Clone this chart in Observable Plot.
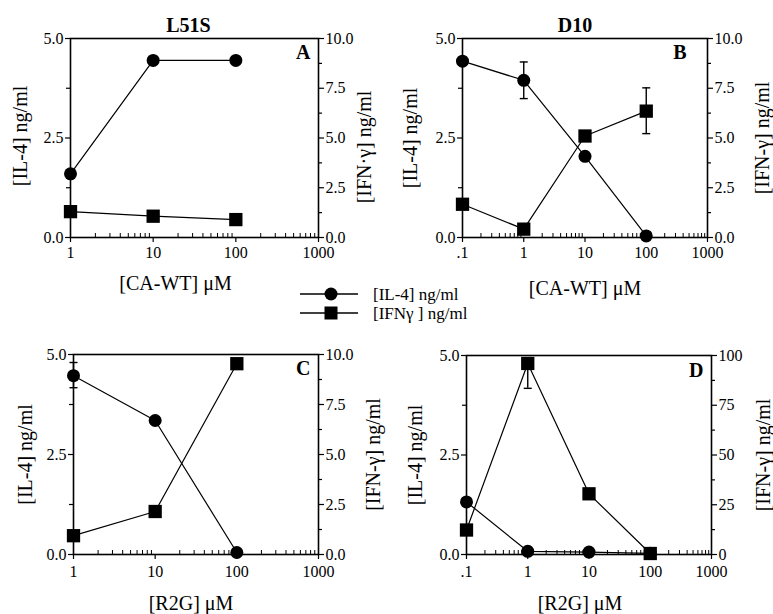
<!DOCTYPE html>
<html><head><meta charset="utf-8">
<script src="https://cdn.jsdelivr.net/npm/d3@7"></script>
<script src="https://cdn.jsdelivr.net/npm/@observablehq/plot@0.6"></script>
<style>
html,body{margin:0;padding:0;background:#fff;}
#root{position:relative;width:773px;height:614px;overflow:hidden;}
#root svg{position:absolute;}
</style></head><body><div id="root"></div>
<script>
// ---------- data ----------
// Panel A: L51S, CA-WT
const xA = [1, 10, 100];
const il4A = [1.6, 4.45, 4.45];
const ifnA = [1.3, 1.07, 0.9];
// Panel B: D10, CA-WT
const xB = [0.1, 1, 10, 100];
const il4B = [4.43, 3.95, 2.04, 0.04];
const ifnB = [1.67, 0.42, 5.1, 6.35];
const errBx = [1, 100], errBseries = ["il4", "ifn"], errBlo = [3.49, 5.22], errBhi = [4.41, 7.52];
// Panel C: L51S, R2G
const xC = [1, 10, 100];
const il4C = [4.47, 3.35, 0.05];
const ifnC = [0.94, 2.15, 9.54];
const errCx = [1], errCseries = ["il4"], errClo = [4.17], errChi = [4.8];
// Panel D: D10, R2G
const xD = [0.1, 1, 10, 100];
const il4D = [1.32, 0.08, 0.06, 0.03];
const ifnD = [12.3, 96, 30.5, 0.5];
const errDx = [1], errDseries = ["ifn"], errDlo = [83.5], errDhi = [96];

// tick labels
const xTicks1 = [1, 10, 100, 1000];
const xTicks01 = [0.1, 1, 10, 100, 1000];
const il4Ticks = [0, 2.5, 5];
const legendLabels = ["[IL-4] ng/ml", "[IFNγ ] ng/ml"];
const legendSymbols = ["circle", "square"];

// ---------- drawing ----------
const FONT = "Liberation Serif, Times New Roman, serif";
const TICK = 16, TITLE = 20, AXT = 20;
const root = document.getElementById("root");
const hline = {draw(ctx, size) { const w = Math.sqrt(size / Math.PI); ctx.moveTo(-w, 0); ctx.lineTo(w, 0); }};

function minorLog(d0, d1) {
  const out = [];
  for (let e = Math.log10(d0); e < Math.log10(d1); e++) {
    for (let m = 2; m <= 9; m++) out.push(m * Math.pow(10, e));
  }
  return out;
}

function label(text, opts) {
  return Plot.text([text], {text: d => d, textAnchor: "middle", lineAnchor: "middle", fill: "black", ...opts});
}

function panel(o) {
  const k = o.ifnMax / 5;
  const rowsIL = o.x.map((x, i) => ({x, v: o.il4[i]}));
  const rowsIF = o.x.map((x, i) => ({x, v: o.ifn[i] / k}));
  const errs = o.errX.map((x, i) => {
    const s = o.errS[i] === "ifn" ? k : 1;
    return {x, lo: o.errLo[i] / s, hi: o.errHi[i] / s};
  });
  const caps = [];
  errs.forEach(e => { caps.push({x: e.x, y: e.lo}); caps.push({x: e.x, y: e.hi}); });
  const fh = o.height - o.mt - o.mb;
  const fmtR = o.ifnMax === 100 ? (d => d3.format("d")(Math.round(d * k))) : (d => d3.format(".1f")(d * k));
  const marks = [
    Plot.tickX(minorLog(o.xDomain[0], o.xDomain[1]), {x: d => d, insetTop: fh - 4, strokeWidth: 1}),
    Plot.axisX({ticks: o.xTicks, tickFormat: d => d === 0.1 ? ".1" : String(d), tickSize: 5, tickPadding: o.xPad, fontSize: TICK, label: null, strokeWidth: 1.2}),
    Plot.axisY({anchor: "left", ticks: il4Ticks, tickFormat: d3.format(".1f"), tickSize: 5, tickPadding: 2, fontSize: TICK, label: null, strokeWidth: 1.2}),
    Plot.axisY({anchor: "left", ticks: [1.25, 3.75], tickFormat: () => "", tickSize: 4, label: null, strokeWidth: 1.2}),
    Plot.axisY({anchor: "right", ticks: [0, 1.25, 2.5, 3.75, 5], tickFormat: fmtR, tickSize: 5, tickPadding: 2, fontSize: TICK, label: null, strokeWidth: 1.2}),
    Plot.axisY({anchor: "right", ticks: [0.625, 1.875, 3.125, 4.375], tickFormat: () => "", tickSize: 3, label: null, strokeWidth: 1.2}),
    Plot.frame({stroke: "black", strokeWidth: 1.6}),
    Plot.line(rowsIL, {x: "x", y: "v", stroke: "black", strokeWidth: 1.2}),
    Plot.line(rowsIF, {x: "x", y: "v", stroke: "black", strokeWidth: 1.2}),
    Plot.ruleX(errs, {x: "x", y1: "lo", y2: "hi", stroke: "black", strokeWidth: 1.4}),
    Plot.dot(caps, {x: "x", y: "y", symbol: hline, r: 4, fill: "none", stroke: "black", strokeWidth: 1.4}),
    Plot.dot(rowsIL, {x: "x", y: "v", symbol: "circle", r: 6.5, fill: "black", stroke: "none"}),
    Plot.dot(rowsIF, {x: "x", y: "v", symbol: "square", r: 7.5, fill: "black", stroke: "none"}),
    label(o.letter, {frameAnchor: "top-right", textAnchor: "end", dx: o.letterDx, dy: o.letterDy, fontSize: TITLE, fontWeight: "bold"}),
    label(o.xLabel, {frameAnchor: "bottom", dx: o.xlDx, dy: o.xlDy, fontSize: AXT}),
    label("[IL-4] ng/ml", {frameAnchor: "left", rotate: -90, dx: o.ylDx, dy: o.ylDy, fontSize: AXT}),
    label(o.ifnLabel, {frameAnchor: "right", rotate: -90, dx: o.yrDx, dy: o.yrDy, fontSize: AXT})
  ];
  if (o.title) marks.push(label(o.title, {frameAnchor: "top", dx: o.tDx, dy: -13, fontSize: TITLE, fontWeight: "bold"}));
  const svg = Plot.plot({
    width: o.width, height: o.height,
    marginLeft: o.ml, marginRight: o.mr, marginTop: o.mt, marginBottom: o.mb,
    x: {type: "log", domain: o.xDomain},
    y: {domain: [0, 5]},
    style: {fontFamily: FONT, fontSize: TICK + "px", background: "transparent", overflow: "visible", color: "black"},
    marks
  });
  svg.style.left = o.left + "px";
  svg.style.top = o.top + "px";
  root.appendChild(svg);
}

panel({x: xA, il4: il4A, ifn: ifnA, errX: [], errS: [], errLo: [], errHi: [],
  xDomain: [1, 1000], xTicks: xTicks1, xPad: 4, ifnMax: 10, title: "L51S", tDx: -6,
  letter: "A", letterDx: -8, letterDy: 14, xLabel: "[CA-WT] μM", xlDx: -19, xlDy: 46,
  ifnLabel: "[IFN·γ] ng/ml", ylDx: -50, ylDy: -2, yrDx: 46, yrDy: 9,
  left: 0, top: 0, width: 386, height: 300, ml: 70, mr: 68, mt: 38, mb: 63});

panel({x: xB, il4: il4B, ifn: ifnB, errX: errBx, errS: errBseries, errLo: errBlo, errHi: errBhi,
  xDomain: [0.1, 1000], xTicks: xTicks01, xPad: 4, ifnMax: 10, title: "D10", tDx: -10,
  letter: "B", letterDx: -21, letterDy: 14, xLabel: "[CA-WT] μM", xlDx: 0, xlDy: 51,
  ifnLabel: "[IFN-γ] ng/ml", ylDx: -52, ylDy: 0, yrDx: 55, yrDy: 0,
  left: 386, top: 0, width: 387, height: 300, ml: 76, mr: 66, mt: 38, mb: 63});

panel({x: xC, il4: il4C, ifn: ifnC, errX: errCx, errS: errCseries, errLo: errClo, errHi: errChi,
  xDomain: [1, 1000], xTicks: xTicks1, xPad: 6, ifnMax: 10, title: null,
  letter: "C", letterDx: -8, letterDy: 14, xLabel: "[R2G] μM", xlDx: -5, xlDy: 49,
  ifnLabel: "[IFN-γ] ng/ml", ylDx: -48, ylDy: 0, yrDx: 55, yrDy: 0,
  left: 0, top: 307, width: 386, height: 307, ml: 73, mr: 68, mt: 47, mb: 60});

panel({x: xD, il4: il4D, ifn: ifnD, errX: errDx, errS: errDseries, errLo: errDlo, errHi: errDhi,
  xDomain: [0.1, 1000], xTicks: xTicks01, xPad: 6, ifnMax: 100, title: null,
  letter: "D", letterDx: -8, letterDy: 15, xLabel: "[R2G] μM", xlDx: -9, xlDy: 49,
  ifnLabel: "[IFN-γ] ng/ml", ylDx: -51, ylDy: 0, yrDx: 52, yrDy: 0,
  left: 386, top: 307, width: 387, height: 307, ml: 80, mr: 62, mt: 48, mb: 60});

// ---------- legend ----------
const leg = d3.select(root).append("svg")
  .attr("width", 773).attr("height", 614)
  .style("left", "0px").style("top", "0px").style("pointer-events", "none");
legendLabels.forEach((lab, i) => {
  const y = 294 + i * 19;
  leg.append("line").attr("x1", 300).attr("x2", 358).attr("y1", y).attr("y2", y)
    .attr("stroke", "black").attr("stroke-width", 1.3);
  const sym = legendSymbols[i] === "circle" ? d3.symbolCircle : d3.symbolSquare;
  const size = legendSymbols[i] === "circle" ? Math.PI * 6.5 * 6.5 : 13 * 13;
  leg.append("path").attr("d", d3.symbol(sym, size)()).attr("transform", `translate(331,${y})`).attr("fill", "black");
  leg.append("text").attr("x", 373).attr("y", y).attr("dy", "0.35em")
    .attr("font-family", FONT).attr("font-size", 17).attr("fill", "black").text(lab);
});
</script>
</body></html>
